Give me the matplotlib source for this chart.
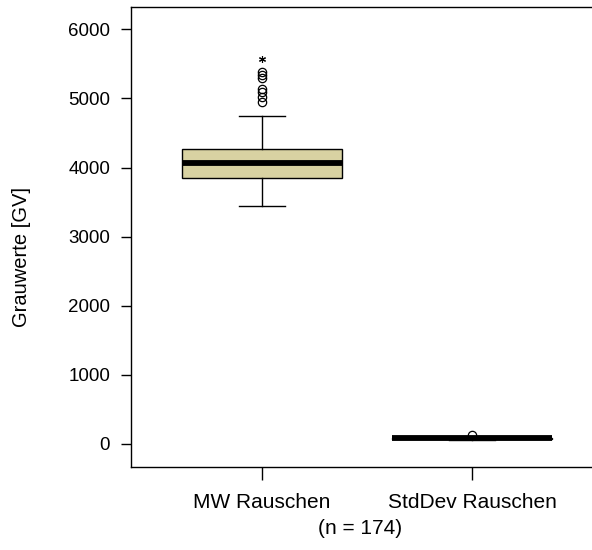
import matplotlib
matplotlib.use("Agg")
import matplotlib.pyplot as plt

plt.rcParams['font.family'] = ['Liberation Sans', 'DejaVu Sans']

categories = ["MW Rauschen", "StdDev Rauschen"]
q1 = [3850, 72]
median = [4066, 80]
q3 = [4269, 88]
whisker_low = [3449, 62]
whisker_high = [4751, 100]
outliers = [[4945, 5026, 5098, 5133, 5292, 5340, 5379], [128]]
extremes = [[5572], []]
yticks = [0, 1000, 2000, 3000, 4000, 5000, 6000]
ylabel = "Grauwerte [GV]"
note = "(n = 174)"

fig = plt.figure(figsize=(5.92, 5.5), dpi=100)
W, H = 592, 550
ax = fig.add_axes([131 / W, (H - 467) / H, (603 - 131) / W, (467 - 7) / H])

stats = []
for i, c in enumerate(categories):
    stats.append(dict(label=c, q1=q1[i], med=median[i], q3=q3[i],
                      whislo=whisker_low[i], whishi=whisker_high[i],
                      fliers=outliers[i]))

ax.bxp(stats, positions=[1, 2], widths=0.762, patch_artist=True,
       capwidths=0.22,
       boxprops=dict(facecolor="#D8D2A2", edgecolor="black", linewidth=1.0),
       medianprops=dict(color="black", linewidth=4.2, solid_capstyle="butt"),
       whiskerprops=dict(color="black", linewidth=1.0),
       capprops=dict(color="black", linewidth=1.0),
       flierprops=dict(marker="o", markerfacecolor="none", markeredgecolor="black",
                       markersize=6, markeredgewidth=0.9))

for i, ex in enumerate(extremes):
    if ex:
        ax.plot([i + 1] * len(ex), ex, linestyle="none", marker=(6, 2, 0),
                color="black", markersize=5, markeredgewidth=0.8)

ax.set_xlim(0.376, 2.624)
ax.set_ylim(-333, 6323)
ax.set_yticks(yticks)
ax.set_yticklabels([str(v) for v in yticks])
ax.set_xticks([1, 2])
ax.set_xticklabels(categories)
ax.tick_params(axis="y", length=7, width=1, pad=8, labelsize=13.5)
ax.tick_params(axis="x", length=9.5, width=1, pad=9, labelsize=15)
for s in ax.spines.values():
    s.set_linewidth(1.0)

fig.text(22 / W, 1 - 257 / H, ylabel, rotation=90, ha="center", va="center", fontsize=14.5)
fig.text(360 / W, 1 - 529 / H, note, ha="center", va="center", fontsize=15)

fig.savefig("out.png", dpi=100)
